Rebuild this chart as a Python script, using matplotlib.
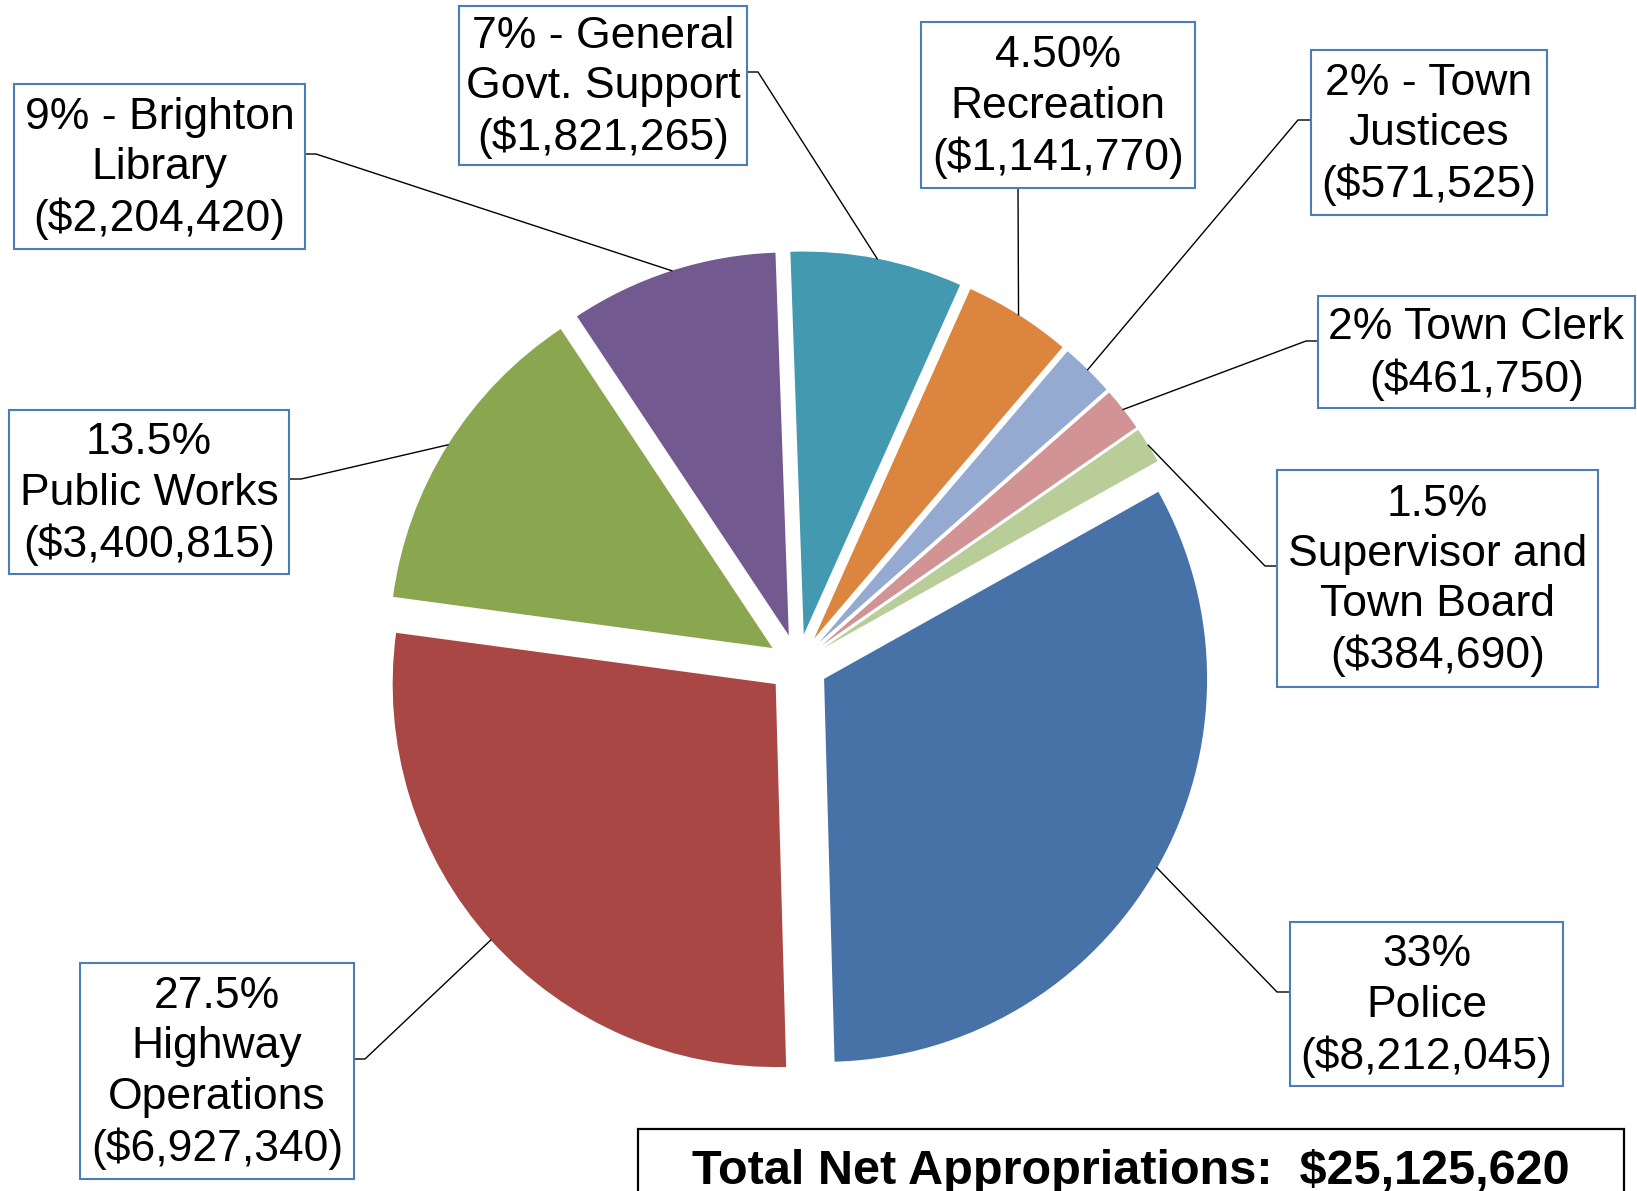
import matplotlib
matplotlib.use('Agg')
import matplotlib.pyplot as plt
import matplotlib.patches as patches
import numpy as np

plt.rcParams['font.family'] = ['Liberation Sans', 'DejaVu Sans']

# data, clockwise from 12 o'clock
names = ['General Govt. Support', 'Recreation', 'Town Justices', 'Town Clerk',
         'Supervisor and Town Board', 'Police', 'Highway Operations',
         'Public Works', 'Brighton Library']
amounts = [1821265, 1141770, 571525, 461750, 384690, 8212045, 6927340, 3400815, 2204420]
pct_text = ['7%', '4.50%', '2%', '2%', '1.5%', '33%', '27.5%', '13.5%', '9%']
label_head = ['7% - General\nGovt. Support', '4.50%\nRecreation', '2% - Town\nJustices',
              '2% Town Clerk', '1.5%\nSupervisor and\nTown Board', '33%\nPolice',
              '27.5%\nHighway\nOperations', '13.5%\nPublic Works', '9% - Brighton\nLibrary']
colors = ['#4299B0', '#DC853E', '#95AAD0', '#D29394', '#B8CD97',
          '#4672A8', '#A94744', '#8AA64F', '#725990']
total = sum(amounts)

W, H = 1637, 1191


def Y(y):
    # image row -> axes y (up)
    return H - y


# label boxes (x0, y0, x1, y1 in image pixels), attach point and elbow
boxes = [(459, 6, 747, 165), (921, 22, 1195, 188), (1311, 50, 1547, 215),
         (1318, 296, 1635, 408), (1277, 470, 1598, 687), (1290, 922, 1563, 1086),
         (80, 963, 354, 1179), (9, 410, 289, 574), (14, 84, 305, 249)]
attach = [(747, 72), (1018, 188), (1311, 120), (1318, 341), (1277, 566),
          (1290, 992), (354, 1059), (289, 479), (305, 154)]
elbow = [(758, 72), (1018, 188), (1298, 120), (1306, 341), (1265, 566),
         (1277, 992), (365, 1059), (301, 479), (316, 154)]

fig = plt.figure(figsize=(W / 100, H / 100), dpi=100)
ax = fig.add_axes([0, 0, 1, 1])
fig.patch.set_facecolor('white')

R = 383
# explode is in data units (pixels here)
wedges, _ = ax.pie(amounts, colors=colors, startangle=92, counterclock=False,
                   explode=[30] * len(amounts), radius=R, center=(798, Y(664)),
                   wedgeprops=dict(linewidth=0))

ax.set_aspect('auto')
ax.set_xlim(0, W)
ax.set_ylim(0, H)
ax.axis('off')

for i, w in enumerate(wedges):
    th = np.deg2rad((w.theta1 + w.theta2) / 2)
    px = w.center[0] + w.r * np.cos(th)
    py = w.center[1] + w.r * np.sin(th)
    ex, ey = elbow[i]
    axx, ayy = attach[i]
    ax.plot([px, ex, axx], [py, Y(ey), Y(ayy)], color='black', lw=1.0,
            solid_joinstyle='miter', zorder=3)

    x0, y0, x1, y1 = boxes[i]
    ax.add_patch(patches.Rectangle((x0, Y(y1)), x1 - x0, y1 - y0, facecolor='white',
                                   edgecolor='#4A7EBB', lw=1.5, zorder=4))
    label = f"{label_head[i]}\n(${amounts[i]:,})"
    ax.text((x0 + x1) / 2, Y((y0 + y1) / 2 + 2), label, fontsize=32, color='black',
            ha='center', va='center', multialignment='center', linespacing=1.29,
            zorder=5)

# total box
ax.add_patch(patches.Rectangle((638, -20), 1624 - 638, Y(1129) + 20, facecolor='white',
                               edgecolor='black', lw=1.6, zorder=4))
ax.text(1131, Y(1184), f"Total Net Appropriations:  ${total:,}",
        fontsize=35, fontweight='bold', ha='center', va='baseline', zorder=5)

fig.savefig('out.png', dpi=100, facecolor='white')
plt.close()
